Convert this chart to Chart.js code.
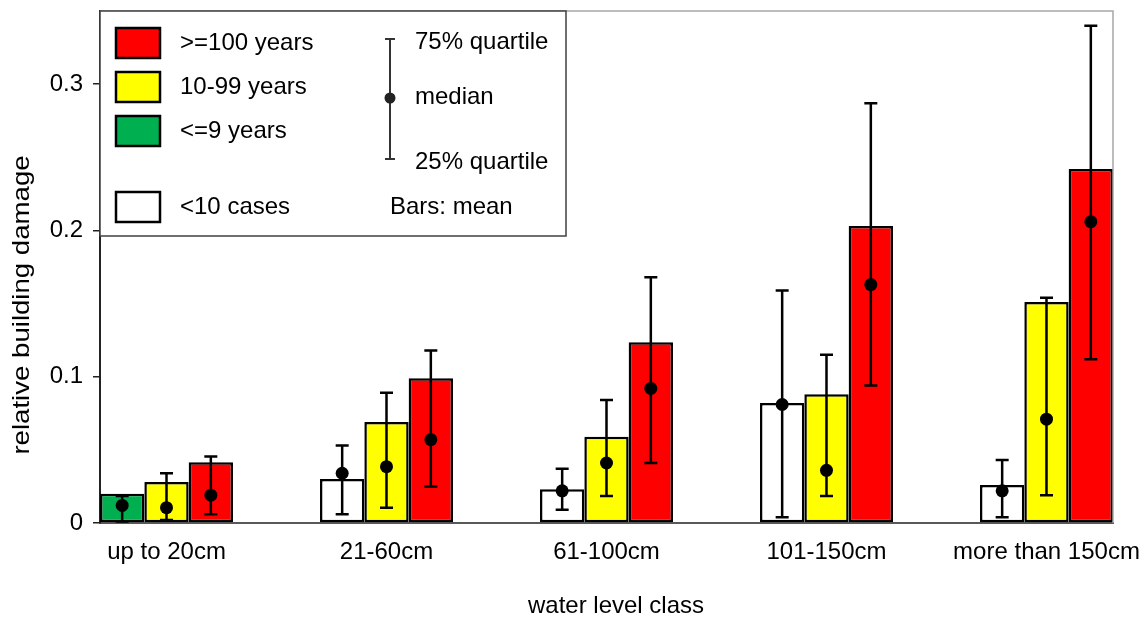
<!DOCTYPE html>
<html><head><meta charset="utf-8">
<script src="https://cdn.jsdelivr.net/npm/chart.js@4.4.0/dist/chart.umd.min.js"></script>
<style>html,body{margin:0;padding:0;background:#fff;overflow:hidden}</style>
</head><body>
<canvas id="c" width="1144" height="619"></canvas>
<script>
// ---- data ----
const categories = ['up to 20cm', '21-60cm', '61-100cm', '101-150cm', 'more than 150cm'];
const seriesNames = ['<=9 years', '10-99 years', '>=100 years'];
const yTickValues = [0, 0.1, 0.2, 0.3];
const xTitle = 'water level class';
const yTitle = 'relative building damage';

// <=9 years
const meanYoung   = [0.020, 0.030, 0.023, 0.082, 0.026];
const medianYoung = [0.012, 0.034, 0.022, 0.081, 0.022];
const q25Young    = [0.001, 0.006, 0.009, 0.004, 0.004];
const q75Young    = [0.0185, 0.053, 0.037, 0.159, 0.043];
const fewCasesYoung = [false, true, true, true, true];

// 10-99 years
const meanMid   = [0.028, 0.069, 0.059, 0.088, 0.151];
const medianMid = [0.0105, 0.0385, 0.041, 0.036, 0.071];
const q25Mid    = [0.002, 0.0105, 0.0185, 0.0185, 0.019];
const q75Mid    = [0.034, 0.089, 0.084, 0.115, 0.154];

// >=100 years
const meanOld   = [0.0415, 0.099, 0.1235, 0.203, 0.242];
const medianOld = [0.019, 0.057, 0.092, 0.163, 0.206];
const q25Old    = [0.006, 0.025, 0.041, 0.094, 0.112];
const q75Old    = [0.0455, 0.118, 0.168, 0.287, 0.340];

// ---- styling ----
const FONT = '"Liberation Sans", Arial, sans-serif';
const FS = 24;
const GREEN = '#00b050', YELLOW = '#ffff00', RED = '#ff0000', WHITE = '#ffffff';

const stats = [
  {median: medianYoung, q25: q25Young, q75: q75Young},
  {median: medianMid, q25: q25Mid, q75: q75Mid},
  {median: medianOld, q25: q25Old, q75: q75Old}
];

function pts(arr) { return arr.map((v, i) => ({x: i, y: v})); }

const errorPlugin = {
  id: 'errorbars',
  afterDatasetsDraw(chart) {
    const ctx = chart.ctx, ys = chart.scales.y;
    ctx.save();
    ctx.strokeStyle = '#000'; ctx.fillStyle = '#000';
    ctx.lineWidth = 2.5;
    stats.forEach((s, di) => {
      const meta = chart.getDatasetMeta(di);
      meta.data.forEach((el, j) => {
        const x = el.x;
        const yt = ys.getPixelForValue(s.q75[j]);
        const yb = ys.getPixelForValue(s.q25[j]);
        const ym = ys.getPixelForValue(s.median[j]);
        ctx.beginPath();
        ctx.moveTo(x, yt); ctx.lineTo(x, yb);
        ctx.moveTo(x - 6.5, yt); ctx.lineTo(x + 6.5, yt);
        ctx.moveTo(x - 6.5, yb); ctx.lineTo(x + 6.5, yb);
        ctx.stroke();
        ctx.beginPath(); ctx.arc(x, ym, 6.5, 0, Math.PI * 2); ctx.fill();
      });
    });
    ctx.restore();
  },
  afterDraw(chart) {
    const ctx = chart.ctx, a = chart.chartArea;
    ctx.save();
    // top & right frame
    ctx.strokeStyle = '#a6a6a6'; ctx.lineWidth = 1.5;
    ctx.beginPath();
    ctx.moveTo(a.left, a.top); ctx.lineTo(a.right, a.top); ctx.lineTo(a.right, a.bottom);
    ctx.stroke();
    // axis titles
    ctx.fillStyle = '#000';
    ctx.font = FS + 'px ' + FONT;
    ctx.textAlign = 'center'; ctx.textBaseline = 'middle';
    ctx.fillText(xTitle, 616, 606);
    ctx.save();
    ctx.translate(22, 305);
    ctx.rotate(-Math.PI / 2);
    ctx.scale(1.15, 1);
    ctx.fillText(yTitle, 0, 0);
    ctx.restore();
    // legend box
    const L = a.left, T = a.top;
    ctx.fillStyle = '#fff';
    ctx.fillRect(L, T, 466, 225);
    ctx.strokeStyle = '#404040'; ctx.lineWidth = 1.5;
    ctx.strokeRect(L, T, 466, 225);
    const sw = [
      {c: RED, y: 17, t: seriesNames[2]},
      {c: YELLOW, y: 61, t: seriesNames[1]},
      {c: GREEN, y: 105, t: seriesNames[0]},
      {c: WHITE, y: 181, t: '<10 cases'}
    ];
    ctx.textBaseline = 'middle';
    ctx.textAlign = 'left';
    sw.forEach(s => {
      ctx.fillStyle = s.c;
      ctx.fillRect(L + 16, T + s.y, 44, 30);
      ctx.strokeStyle = '#000'; ctx.lineWidth = 2.5;
      ctx.strokeRect(L + 16, T + s.y, 44, 30);
      ctx.fillStyle = '#000';
      ctx.fillText(s.t, L + 80, T + s.y + 15);
    });
    // error bar legend symbol
    const ex = L + 290;
    ctx.strokeStyle = '#333'; ctx.lineWidth = 2;
    ctx.beginPath();
    ctx.moveTo(ex, T + 28); ctx.lineTo(ex, T + 148);
    ctx.moveTo(ex - 5, T + 28); ctx.lineTo(ex + 5, T + 28);
    ctx.moveTo(ex - 5, T + 148); ctx.lineTo(ex + 5, T + 148);
    ctx.stroke();
    ctx.fillStyle = '#222';
    ctx.beginPath(); ctx.arc(ex, T + 87, 5.5, 0, Math.PI * 2); ctx.fill();
    ctx.fillStyle = '#000';
    ctx.fillText('75% quartile', L + 315, T + 31);
    ctx.fillText('median', L + 315, T + 86);
    ctx.fillText('25% quartile', L + 315, T + 151);
    ctx.fillText('Bars: mean', L + 290, T + 196);
    ctx.restore();
  }
};

const bordered = {borderColor: '#000', borderWidth: 2.5, borderSkipped: false};

new Chart(document.getElementById('c'), {
  type: 'bar',
  data: {
    datasets: [
      Object.assign({label: seriesNames[0], data: pts(meanYoung),
        backgroundColor: fewCasesYoung.map(f => f ? WHITE : GREEN)}, bordered),
      Object.assign({label: seriesNames[1], data: pts(meanMid), backgroundColor: YELLOW}, bordered),
      Object.assign({label: seriesNames[2], data: pts(meanOld), backgroundColor: RED}, bordered)
    ]
  },
  options: {
    responsive: false,
    animation: false,
    devicePixelRatio: 1,
    categoryPercentage: 0.6045,
    barPercentage: 1,
    layout: {padding: {left: 0, right: 31, top: 11, bottom: 0}},
    plugins: {legend: {display: false}, tooltip: {enabled: false}},
    scales: {
      x: {
        type: 'linear',
        offset: false,
        min: -0.3023, max: 4.3023,
        afterFit: s => { s.height = 96; s.paddingLeft = 0; s.paddingRight = 0; },
        afterBuildTicks: s => { s.ticks = categories.map((c, i) => ({value: i})); },
        grid: {display: false, drawTicks: false, offset: false},
        border: {display: true, color: '#595959', width: 2},
        ticks: {
          autoSkip: false, maxRotation: 0, padding: 15, color: '#000',
          font: {family: FONT, size: FS},
          callback: v => categories[v]
        }
      },
      y: {
        min: 0, max: 0.35,
        afterFit: s => { s.width = 100; s.paddingTop = 0; s.paddingBottom = 0; },
        afterBuildTicks: s => { s.ticks = yTickValues.map(v => ({value: v})); },
        grid: {display: true, drawOnChartArea: false, drawTicks: true, tickLength: 7, color: '#222', lineWidth: 1.5},
        border: {display: true, color: '#222', width: 2},
        ticks: {
          padding: 10, color: '#000',
          font: {family: FONT, size: FS},
          callback: v => v === 0 ? '0' : v.toFixed(1)
        }
      }
    }
  },
  plugins: [errorPlugin]
});
</script>
</body></html>
